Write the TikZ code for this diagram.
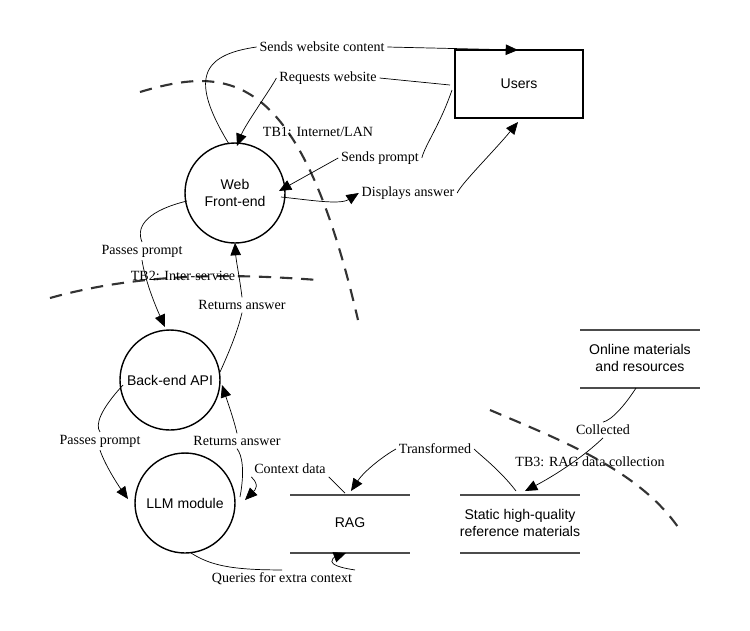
\documentclass[tikz,border=0pt]{standalone}
\usepackage{fontspec}
\setmainfont{Liberation Serif}
\newfontfamily\sansf{Liberation Sans}
\usetikzlibrary{arrows.meta}
\begin{document}
\begin{tikzpicture}[x=0.02cm,y=-0.02cm,
    every circle node/.style={draw,thick,minimum size=2cm,align=center,font=\sansf\fontsize{8}{9.5}\selectfont},
    lbl/.style={font=\fontsize{8}{9}\selectfont,inner sep=1.5pt},
    store/.style={font=\sansf\fontsize{8}{9.5}\selectfont,align=center},
    flow/.style={thin,-{Triangle[length=7pt,width=6pt]}},
    tb/.style={very thick,dashed,dash pattern=on 7pt off 5pt,color=black!80}]
    \useasboundingbox (0,0) rectangle (750,630);
    % processes
    \node (web)[circle] at (235,193) {Web\\Front-end};
    \node (api)[circle] at (170,380) {Back-end API};
    \node (llm)[circle] at (185,503) {LLM module};
    \node (users)[draw,thick,minimum width=2.56cm,minimum height=1.36cm,font=\sansf\fontsize{8}{9.5}\selectfont] at (519,84) {Users};
    % data stores
    \draw[thick,black!70] (290,495) -- (410,495) (290,553) -- (410,553);
    \node (rag)[store] at (350,523) {RAG};
    \draw[thick,black!70] (460,495) -- (580,495) (460,553) -- (580,553);
    \node (static)[store] at (520,523) {Static high-quality\\reference materials};
    \draw[thick,black!70] (580,330) -- (700,330) (580,388) -- (700,388);
    \node (online)[store] at (640,358) {Online materials\\and resources};
    % trust boundaries
    \draw[tb] (140,92) .. controls (230,65) and (300,70) .. (358,320);
    \draw[tb] (50,298) .. controls (150,270) and (250,275) .. (318,280);
    \draw[tb] (490,410) .. controls (560,440) and (640,470) .. (680,530);
    \node[lbl] at (318,132) {TB1: Internet/LAN};
    \node[lbl] at (183,276) {TB2: Inter-service};
    \node[lbl] at (590,462) {TB3: RAG data collection};
    % flow labels
    \node (l1)[lbl] at (322,47) {Sends website content};
    \node (l2)[lbl] at (328,78) {Requests website};
    \node (l3)[lbl] at (380,158) {Sends prompt};
    \node (l4)[lbl] at (408,193) {Displays answer};
    \node (l5)[lbl] at (142,251) {Passes prompt};
    \node (l6)[lbl] at (242,305) {Returns answer};
    \node (l7)[lbl] at (100,441) {Passes prompt};
    \node (l8)[lbl] at (237,441) {Returns answer};
    \node (l9)[lbl] at (290,469) {Context data};
    \node (l10)[lbl] at (282,579) {Queries for extra context};
    \node (l11)[lbl] at (435,449) {Transformed};
    \node (l12)[lbl] at (603,430) {Collected};
    % flows
    \draw (229,144) .. controls (190,80) and (200,55) .. (l1.west);
    \draw[flow] (l1.east) -- (518,50);
    \draw (450,85) -- (l2.east);
    \draw[flow] (l2.west) .. controls (270,90) and (245,125) .. (237,146);
    \draw (452,90) .. controls (440,125) and (425,145) .. (l3.east);
    \draw[flow] (l3.west) -- (279,191);
    \draw[flow] (281,197) .. controls (310,200) and (340,205) .. (l4.west);
    \draw[flow] (l4.east) .. controls (460,185) and (495,150) .. (518,122);
    \draw (187,201) .. controls (150,210) and (135,225) .. (l5.north);
    \draw[flow] (l5.south) .. controls (145,280) and (155,305) .. (165,327);
    \draw (220,372) .. controls (230,350) and (238,330) .. (l6.south);
    \draw[flow] (l6.north) .. controls (240,280) and (236,260) .. (235,243);
    \draw (123,385) .. controls (100,410) and (95,425) .. (l7.north);
    \draw[flow] (l7.south) .. controls (105,465) and (118,485) .. (128,499);
    \draw (240,497) .. controls (245,470) and (242,455) .. (l8.south);
    \draw[flow] (l8.north) .. controls (234,420) and (227,400) .. (222,385);
    \draw (345,493) -- (l9.south east);
    \draw[flow] (l9.south west) .. controls (260,485) and (255,490) .. (245,500);
    \draw (191,553) .. controls (210,565) and (230,570) .. (l10.north);
    \draw[flow] (l10.north east) .. controls (320,565) and (335,557) .. (346,553);
    \draw (516,491) .. controls (500,470) and (480,455) .. (l11.east);
    \draw[flow] (l11.west) .. controls (385,455) and (365,470) .. (351,491);
    \draw (636,388) .. controls (625,405) and (612,420) .. (l12.north);
    \draw[flow] (l12.south) .. controls (580,460) and (550,478) .. (525,491);
\end{tikzpicture}
\end{document}
